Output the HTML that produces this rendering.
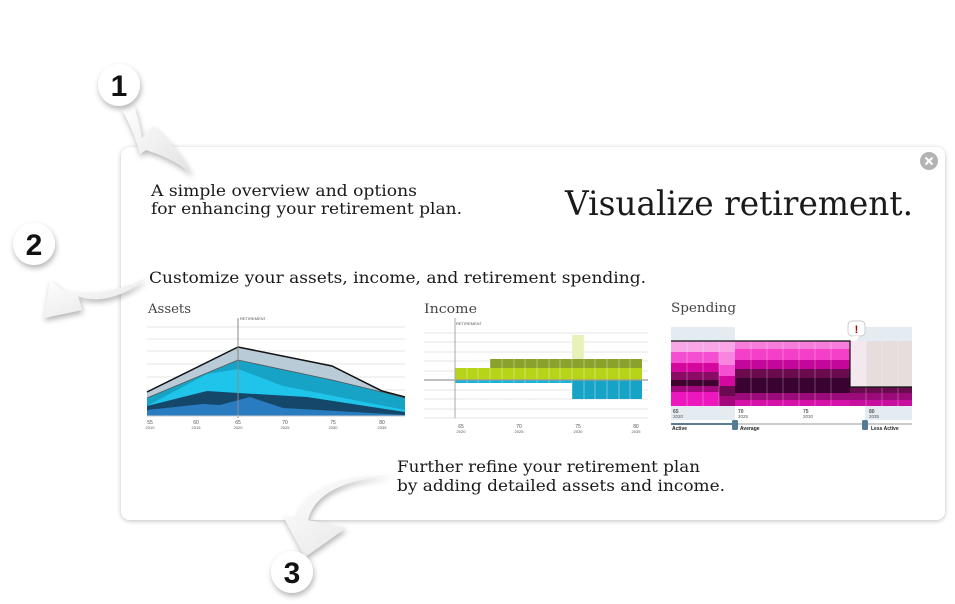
<!DOCTYPE html>
<html><head><meta charset="utf-8"><style>
html,body{margin:0;padding:0;background:#fff;width:955px;height:604px;overflow:hidden}
svg{display:block}
text{font-family:"DejaVu Serif","Liberation Serif",serif}
.ax,.ax text{font-family:"Liberation Sans",sans-serif;font-size:5px;fill:#555}
</style></head><body>
<svg width="955" height="604" viewBox="0 0 955 604" xmlns="http://www.w3.org/2000/svg">
<defs>
<filter id="sh" x="-10%" y="-10%" width="120%" height="130%"><feDropShadow dx="0" dy="1" stdDeviation="2.5" flood-color="#000" flood-opacity="0.25"/></filter>
<filter id="ash" x="-30%" y="-30%" width="160%" height="160%"><feDropShadow dx="1" dy="3" stdDeviation="3" flood-color="#000" flood-opacity="0.3"/></filter>
<linearGradient id="ag" x1="0" y1="0" x2="1" y2="1"><stop offset="0" stop-color="#ffffff"/><stop offset="1" stop-color="#e2e2e2"/></linearGradient>
</defs>

<!-- panel -->
<rect x="121" y="147" width="824" height="373" rx="9" fill="#fff" filter="url(#sh)"/>

<!-- arrows -->
<g filter="url(#ash)" fill="url(#ag)">
<path d="M122,110 L134,106 C138,118 140,128 142,138 L153,126 C168,140 182,155 192,174 C178,162 160,154 146,150 L140,154 C136,138 130,124 122,110 Z"/>
<path d="M147,278 C125,296 100,304 78,296 L82,310 L44,318 L50,280 L62,290 C88,297 118,292 147,278 Z"/>
<path d="M392,476 C345,478 314,494 308,520 L346,528 L305,557 L283,516 L296,519 C305,488 345,474 392,476 Z"/>
</g>

<!-- number circles -->
<g filter="url(#ash)">
<circle cx="119" cy="85" r="21" fill="#fff"/>
<circle cx="34" cy="244" r="21" fill="#fff"/>
<circle cx="292" cy="572" r="21" fill="#fff"/>
</g>
<g font-weight="bold" font-size="30" text-anchor="middle" fill="#111">
<text x="119" y="96" style="font-family:'Liberation Sans',sans-serif">1</text>
<text x="34" y="255" style="font-family:'Liberation Sans',sans-serif">2</text>
<text x="292" y="583" style="font-family:'Liberation Sans',sans-serif">3</text>
</g>

<!-- close -->
<circle cx="929" cy="161" r="9" fill="#b3b3b3"/>
<path d="M925.5,157.5 L932.5,164.5 M932.5,157.5 L925.5,164.5" stroke="#fff" stroke-width="2.2"/>

<!-- texts -->
<g fill="#1a1a1a">
<text x="151" y="196" font-size="15.5" textLength="266" lengthAdjust="spacingAndGlyphs">A simple overview and options</text>
<text x="151" y="214" font-size="15.5" textLength="311" lengthAdjust="spacingAndGlyphs">for enhancing your retirement plan.</text>
<text x="565" y="215" font-size="34" textLength="348" lengthAdjust="spacingAndGlyphs">Visualize retirement.</text>
<text x="149" y="283" font-size="15.5" textLength="497" lengthAdjust="spacingAndGlyphs">Customize your assets, income, and retirement spending.</text>
<text x="397" y="472" font-size="15.5" textLength="303" lengthAdjust="spacingAndGlyphs">Further refine your retirement plan</text>
<text x="397" y="491" font-size="15.5" textLength="328" lengthAdjust="spacingAndGlyphs">by adding detailed assets and income.</text>
</g>
<g fill="#444" font-size="13">
<text x="148" y="313" textLength="43" lengthAdjust="spacingAndGlyphs">Assets</text>
<text x="424" y="313" textLength="53" lengthAdjust="spacingAndGlyphs">Income</text>
<text x="671" y="312" textLength="65" lengthAdjust="spacingAndGlyphs">Spending</text>
</g>

<!-- Assets chart -->
<g stroke="#e6e6e6" stroke-width="1">
<line x1="147" y1="327" x2="405" y2="327"/><line x1="147" y1="339" x2="405" y2="339"/>
<line x1="147" y1="351" x2="405" y2="351"/><line x1="147" y1="364" x2="405" y2="364"/>
<line x1="147" y1="377" x2="405" y2="377"/><line x1="147" y1="390" x2="405" y2="390"/>
<line x1="147" y1="403" x2="405" y2="403"/>
</g>
<polygon points="147,392 238,347 332,366 382,391 405,397 405,416 147,416" fill="#b9cbd6"/>
<polygon points="147,398 238,360 332,380 382,392 405,398 405,416 147,416" fill="#17a3c6"/>
<polygon points="147,406 207,374 238,369 283,386 405,410 405,416 147,416" fill="#1fc4ea"/>
<polygon points="147,406 207,391 238,393 307,397 405,412 405,416 147,416" fill="#15476b"/>
<polygon points="147,410 203,404 220,405 250,397 283,408 405,415 405,416 147,416" fill="#2a7cc0"/>
<polyline points="147,392 238,347 332,366 382,391 405,397" fill="none" stroke="#111" stroke-width="1.5"/>
<polyline points="147,398 238,360 332,380 382,392 405,398" fill="none" stroke="#555" stroke-width="0.8"/>
<line x1="238" y1="318" x2="238" y2="418" stroke="#888" stroke-width="1"/>
<text x="240" y="320" class="ax" style="font-size:4px">RETIREMENT</text>
<line x1="147" y1="416" x2="405" y2="416" stroke="#ccc"/>
<g class="ax" text-anchor="middle"><text x="150" y="424">55</text><text x="196" y="424">60</text><text x="238" y="424">65</text><text x="285" y="424">70</text><text x="333" y="424">75</text><text x="382" y="424">80</text>
<text x="150" y="429" style="font-size:4px">2010</text><text x="196" y="429" style="font-size:4px">2015</text><text x="238" y="429" style="font-size:4px">2020</text><text x="285" y="429" style="font-size:4px">2025</text><text x="333" y="429" style="font-size:4px">2030</text><text x="382" y="429" style="font-size:4px">2035</text></g>

<!-- Income chart -->
<g stroke="#e6e6e6">
<line x1="424" y1="333" x2="648" y2="333"/><line x1="424" y1="342" x2="648" y2="342"/>
<line x1="424" y1="352" x2="648" y2="352"/><line x1="424" y1="361" x2="648" y2="361"/>
<line x1="424" y1="371" x2="648" y2="371"/><line x1="424" y1="390" x2="648" y2="390"/>
<line x1="424" y1="399" x2="648" y2="399"/><line x1="424" y1="409" x2="648" y2="409"/>
<line x1="424" y1="418" x2="648" y2="418"/>
</g>
<rect x="572" y="335" width="12" height="24" fill="#e6f2b8"/>
<rect x="490" y="359" width="152" height="9" fill="#8aa22b"/>
<rect x="455" y="368" width="187" height="12" fill="#b8d418"/>
<rect x="455" y="380" width="117" height="3" fill="#18b4dc"/>
<rect x="572" y="380" width="70" height="19" fill="#17a3c6"/>
<g stroke="#fff" stroke-opacity="0.45" stroke-width="0.8">
<line x1="467" y1="359" x2="467" y2="399"/><line x1="478" y1="359" x2="478" y2="399"/><line x1="490" y1="359" x2="490" y2="399"/>
<line x1="502" y1="359" x2="502" y2="399"/><line x1="514" y1="359" x2="514" y2="399"/><line x1="525" y1="359" x2="525" y2="399"/>
<line x1="537" y1="359" x2="537" y2="399"/><line x1="549" y1="359" x2="549" y2="399"/><line x1="560" y1="359" x2="560" y2="399"/>
<line x1="572" y1="335" x2="572" y2="399"/><line x1="584" y1="335" x2="584" y2="399"/><line x1="595" y1="359" x2="595" y2="399"/>
<line x1="607" y1="359" x2="607" y2="399"/><line x1="619" y1="359" x2="619" y2="399"/><line x1="630" y1="359" x2="630" y2="399"/>
</g>
<line x1="424" y1="380" x2="648" y2="380" stroke="#999" stroke-width="1.2"/>
<line x1="455" y1="318" x2="455" y2="418" stroke="#aaa"/>
<text x="456" y="325" class="ax" style="font-size:4px">RETIREMENT</text>
<g class="ax" text-anchor="middle"><text x="461" y="428">65</text><text x="519" y="428">70</text><text x="578" y="428">75</text><text x="636" y="428">80</text>
<text x="461" y="433" style="font-size:4px">2020</text><text x="519" y="433" style="font-size:4px">2025</text><text x="578" y="433" style="font-size:4px">2030</text><text x="636" y="433" style="font-size:4px">2035</text></g>

<!-- Spending chart -->
<rect x="671" y="327" width="241" height="15" fill="#e4ecf2"/>
<rect x="735" y="327" width="120" height="15" fill="#fff"/>
<rect x="671" y="341" width="48" height="11" fill="#f9a6e6"/>
<rect x="671" y="352" width="48" height="11" fill="#f44fd0"/>
<rect x="671" y="363" width="48" height="9" fill="#d4089f"/>
<rect x="671" y="372" width="48" height="8" fill="#8a0c66"/>
<rect x="671" y="380" width="48" height="6" fill="#3f0330"/>
<rect x="671" y="386" width="48" height="6" fill="#a2087b"/>
<rect x="671" y="392" width="48" height="14" fill="#ec18bd"/>
<rect x="719" y="341" width="16" height="24" fill="#f9a6e6"/>
<rect x="719" y="352" width="16" height="13" fill="#f77ddd" opacity="0.8"/>
<rect x="719" y="365" width="16" height="11" fill="#f44fd0"/>
<rect x="719" y="376" width="16" height="10" fill="#d4089f"/>
<rect x="719" y="386" width="16" height="10" fill="#6a0b50"/>
<rect x="719" y="396" width="16" height="10" fill="#a2087b"/>
<rect x="735" y="341" width="115" height="8" fill="#f77ddd"/>
<rect x="735" y="349" width="115" height="11" fill="#f43fc8"/>
<rect x="735" y="360" width="115" height="9" fill="#c4079a"/>
<rect x="735" y="369" width="115" height="9" fill="#6a0b50"/>
<rect x="735" y="378" width="115" height="15" fill="#3a0230"/>
<rect x="735" y="393" width="115" height="7" fill="#9a0a78"/>
<rect x="735" y="400" width="115" height="6" fill="#d611aa"/>
<rect x="850" y="341" width="62" height="46" fill="#e6dddd"/>
<rect x="850" y="341" width="16" height="46" fill="#f3e8ee"/>
<rect x="850" y="387" width="62" height="6" fill="#6a0b50"/>
<rect x="850" y="393" width="62" height="7" fill="#9a0a78"/>
<rect x="850" y="400" width="62" height="6" fill="#c8109e"/>
<g stroke="#fff" stroke-opacity="0.35" stroke-width="0.8">
<line x1="687" y1="341" x2="687" y2="406"/><line x1="703" y1="341" x2="703" y2="406"/><line x1="719" y1="341" x2="719" y2="406"/>
<line x1="751" y1="341" x2="751" y2="406"/><line x1="767" y1="341" x2="767" y2="406"/><line x1="783" y1="341" x2="783" y2="406"/>
<line x1="799" y1="341" x2="799" y2="406"/><line x1="815" y1="341" x2="815" y2="406"/><line x1="831" y1="341" x2="831" y2="406"/>
<line x1="866" y1="341" x2="866" y2="406"/><line x1="882" y1="341" x2="882" y2="406"/><line x1="898" y1="341" x2="898" y2="406"/>
</g>
<polyline points="671,341 850,341 850,387 912,387" fill="none" stroke="#111" stroke-width="1.2"/>
<rect x="848" y="321" width="17" height="15" rx="4" fill="#fff" stroke="#bbb" stroke-width="0.7"/>
<path d="M853,336 L856,341 L859,336 Z" fill="#fff"/>
<text x="856.5" y="333" text-anchor="middle" font-size="11" font-weight="bold" fill="#a00" style="font-family:'Liberation Sans',sans-serif">!</text>
<rect x="671" y="406" width="64" height="14" fill="#e4ecf2"/>
<rect x="865" y="406" width="47" height="14" fill="#e4ecf2"/>
<g class="ax"><text x="673" y="413" font-weight="bold">65</text><text x="738" y="413" font-weight="bold">70</text><text x="803" y="413" font-weight="bold">75</text><text x="869" y="413" font-weight="bold">80</text>
<text x="673" y="418" style="font-size:4.5px">2020</text><text x="738" y="418" style="font-size:4.5px">2025</text><text x="803" y="418" style="font-size:4.5px">2030</text><text x="869" y="418" style="font-size:4.5px">2035</text></g>
<line x1="671" y1="424" x2="912" y2="424" stroke="#bbb" stroke-width="1.5"/>
<line x1="671" y1="424" x2="735" y2="424" stroke="#2e5f7f" stroke-width="1.5"/>
<rect x="732" y="420" width="6" height="10" rx="1.5" fill="#557a93"/>
<rect x="862" y="420" width="6" height="10" rx="1.5" fill="#557a93"/>
<g class="ax" font-weight="bold"><text x="672" y="430" style="fill:#222">Active</text><text x="740" y="430" style="fill:#222">Average</text><text x="871" y="430" style="fill:#222">Less Active</text></g>
</svg>
</body></html>
